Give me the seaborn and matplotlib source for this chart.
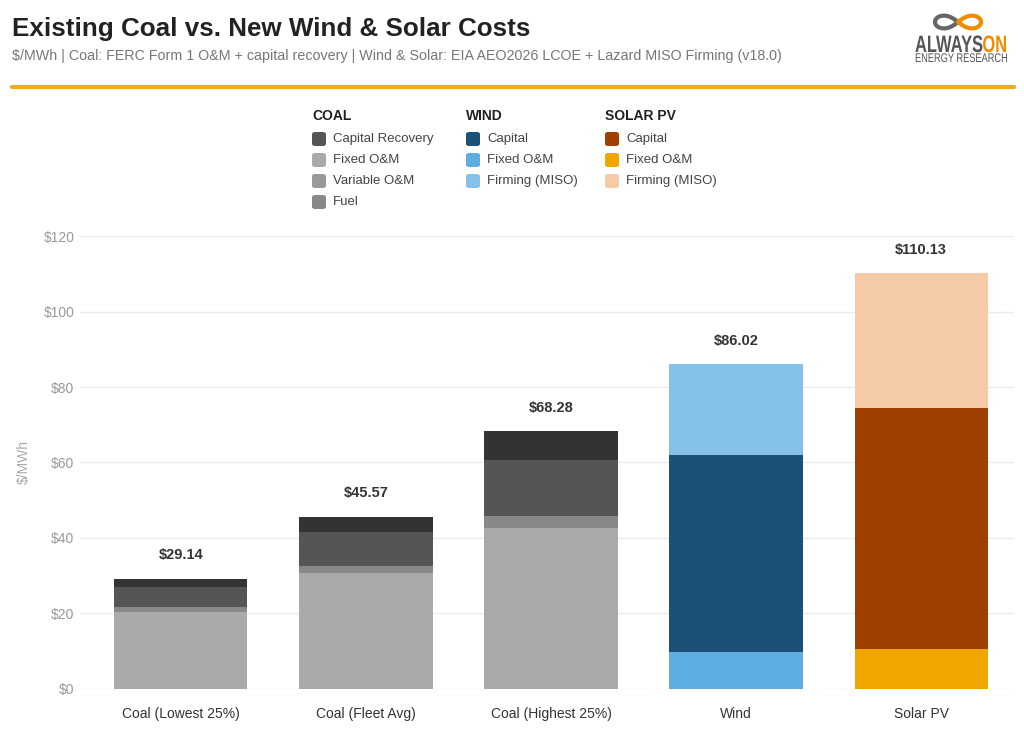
import numpy as np
import pandas as pd
import matplotlib.pyplot as plt
from matplotlib.patches import FancyBboxPatch, PathPatch
from matplotlib.textpath import TextPath
from matplotlib.font_manager import FontProperties
from matplotlib.transforms import Affine2D
import seaborn as sns

categories = ["Coal (Lowest 25%)", "Coal (Fleet Avg)", "Coal (Highest 25%)", "Wind", "Solar PV"]

# coal stacks, bottom -> top
coal_fixed_om = [20.5, 30.8, 42.7]
coal_variable_om = [1.3, 1.9, 3.1]
coal_fuel = [5.3, 8.9, 14.9]
coal_capital_recovery = [2.04, 3.97, 7.58]

# wind / solar stacks, bottom -> top
wind_fixed_om = 9.8
wind_capital = 52.1
wind_firming = 24.12
solar_fixed_om = 10.7
solar_capital = 63.7
solar_firming = 35.73

y_ticks = [0, 20, 40, 60, 80, 100, 120]

rows = []
for i in range(3):
    rows += [
        (categories[i], "Fixed O&M", coal_fixed_om[i], "#aaaaaa"),
        (categories[i], "Variable O&M", coal_variable_om[i], "#888888"),
        (categories[i], "Fuel", coal_fuel[i], "#555555"),
        (categories[i], "Capital Recovery", coal_capital_recovery[i], "#333333"),
    ]
rows += [
    ("Wind", "Fixed O&M", wind_fixed_om, "#5dade2"),
    ("Wind", "Capital", wind_capital, "#1b5077"),
    ("Wind", "Firming (MISO)", wind_firming, "#85c1e9"),
    ("Solar PV", "Fixed O&M", solar_fixed_om, "#f0a500"),
    ("Solar PV", "Capital", solar_capital, "#a04000"),
    ("Solar PV", "Firming (MISO)", solar_firming, "#f5cba7"),
]
df = pd.DataFrame(rows, columns=["category", "component", "value", "color"])

sns.set_style("white")
plt.rcParams["font.family"] = ["Liberation Sans", "DejaVu Sans"]

fig = plt.figure(figsize=(10.24, 7.35), dpi=100)
ax = fig.add_axes([0.078, 0.0626, 0.912, 0.6163])

bottoms = {c: 0.0 for c in categories}
for _, r in df.iterrows():
    sns.barplot(x=[r["category"]], y=[r["value"]], order=categories, bottom=bottoms[r["category"]],
                color=r["color"], saturation=1, width=0.72, linewidth=0, errorbar=None, ax=ax)
    bottoms[r["category"]] += r["value"]

totals = df.groupby("category", sort=False)["value"].sum()
for i, c in enumerate(categories):
    ax.annotate(f"${totals[c]:.2f}", (i, totals[c]), xytext=(0, 12), textcoords="offset points",
                ha="center", va="bottom", fontsize=10.5, fontweight="bold", color="#333333")

ax.set_xlim(-0.545, 4.5)
ax.set_ylim(0, 120)
ax.set_yticks(y_ticks)
ax.set_yticklabels([f"${v}" for v in y_ticks])
ax.yaxis.grid(True, color="#ebebeb", linewidth=1)
ax.set_axisbelow(True)
for s in ax.spines.values():
    s.set_visible(False)
ax.tick_params(axis="y", length=0, pad=4, labelsize=10, labelcolor="#999999")
ax.tick_params(axis="x", length=0, pad=13, labelsize=10, labelcolor="#333333")
ax.set_xlabel("")
ax.set_ylabel("$/MWh", fontsize=10, color="#aaaaaa", labelpad=9)

# header
fig.text(12 / 1024, 1 - 29 / 735, "Existing Coal vs. New Wind & Solar Costs", fontsize=18.7,
         fontweight="bold", color="#222222", va="center", ha="left")
fig.text(12 / 1024, 1 - 56 / 735,
         "$/MWh | Coal: FERC Form 1 O&M + capital recovery | Wind & Solar: EIA AEO2026 LCOE + Lazard MISO Firming (v18.0)",
         fontsize=10.3, color="#777777", va="center", ha="left")
fig.add_artist(plt.Line2D([12 / 1024, 1014 / 1024], [1 - 87 / 735] * 2, color="#f5a623", linewidth=3))

# logo: tall condensed word mark + infinity swirl
bold = FontProperties(family="Liberation Sans", weight="bold")
reg = FontProperties(family="Liberation Sans")
words = [("ALWAYS", "#555555"), ("ON", "#f08c00")]
paths = [TextPath((0, 0), w, size=1, prop=bold) for w, _ in words]
total_w = sum(p.get_extents().x1 for p in paths)
sx = 91 / total_w
sy = 17 / 0.716
x_cur = 915
for p, (_, col) in zip(paths, words):
    tr = Affine2D().scale(sx / 1024, sy / 735).translate(x_cur / 1024, 1 - 52 / 735) + fig.transFigure
    fig.add_artist(PathPatch(p, transform=tr, facecolor=col, edgecolor="none"))
    x_cur += p.get_extents().x1 * sx
tp = TextPath((0, 0), "ENERGY RESEARCH", size=1, prop=reg)
sx2 = 92 / tp.get_extents().x1
tr = Affine2D().scale(sx2 / 1024, 9 / 0.716 / 735).translate(915 / 1024, 1 - 62 / 735) + fig.transFigure
fig.add_artist(PathPatch(tp, transform=tr, facecolor="#555555", edgecolor="none"))

t = np.linspace(0, 2 * np.pi, 200)
lx = np.cos(t) / (1 + np.sin(t) ** 2)
ly = np.sin(t) * np.cos(t) / (1 + np.sin(t) ** 2)
px = 958 + 23 * lx
py = 22 + 18 * ly
right = lx >= 0
fig.add_artist(plt.Line2D(px[~right] / 1024, 1 - py[~right] / 735, color="#666666", linewidth=3,
                          solid_capstyle="round"))
order = np.r_[np.where(right & (t > np.pi))[0], np.where(right & (t < np.pi))[0]]
fig.add_artist(plt.Line2D(px[order] / 1024, 1 - py[order] / 735,
                          color="#f08c00", linewidth=3, solid_capstyle="round"))

# legend
legend_groups = [
    ("COAL", 312, [("Capital Recovery", "#555555"), ("Fixed O&M", "#aaaaaa"),
                   ("Variable O&M", "#999999"), ("Fuel", "#888888")]),
    ("WIND", 466, [("Capital", "#1b5077"), ("Fixed O&M", "#5dade2"), ("Firming (MISO)", "#85c1e9")]),
    ("SOLAR PV", 605, [("Capital", "#a04000"), ("Fixed O&M", "#f0a500"), ("Firming (MISO)", "#f5cba7")]),
]
for title, x0, items in legend_groups:
    fig.text(x0 / 1024, 1 - 116 / 735, title, fontsize=10, fontweight="bold",
             color="#222222", ha="left", va="center")
    for k, (lab, col) in enumerate(items):
        yc = 139 + 21 * k
        fig.add_artist(FancyBboxPatch((x0 / 1024, 1 - (yc + 7) / 735), 14 / 1024, 14 / 735,
                                      boxstyle="round,pad=0,rounding_size=0.003",
                                      facecolor=col, edgecolor="none", transform=fig.transFigure))
        fig.text((x0 + 21) / 1024, 1 - yc / 735, lab, fontsize=9.5, color="#444444",
                 ha="left", va="center")

fig.savefig("out.png", dpi=100)
